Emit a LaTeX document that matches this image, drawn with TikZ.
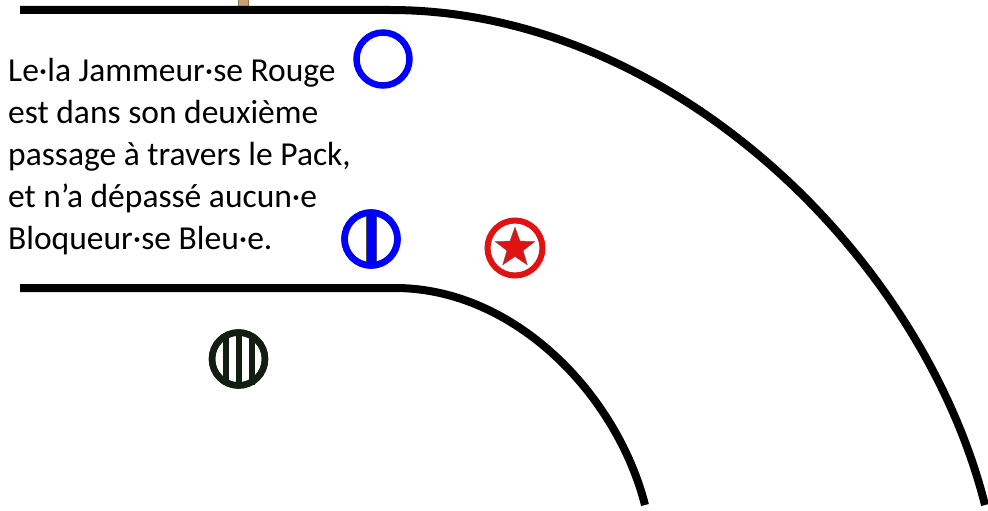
\documentclass[tikz,border=0pt]{standalone}
\usepackage{fontspec}
\setmainfont{Carlito}
\usetikzlibrary{shapes.geometric}
\definecolor{blockblue}{RGB}{0,0,255}
\definecolor{jamred}{RGB}{225,18,18}
\definecolor{darkgrn}{RGB}{18,30,18}
\definecolor{posttan}{RGB}{200,160,112}
\tikzset{
  trackline/.style={line width=8pt, black},
  ring/.style={circle, line width=6.5pt, minimum size=53pt, inner sep=0pt, fill=white},
  bluebar/.style={fill=blockblue, draw=black!70, line width=0.5pt},
  greenbar/.style={fill=darkgrn, draw=darkgrn, line width=0.3pt},
  infotext/.style={align=left, anchor=north west, inner sep=0pt, font=\fontsize{33.5}{42}\selectfont}
}
\begin{document}
\begin{tikzpicture}[x=1pt,y=-1pt]
\useasboundingbox (0,0) rectangle (988,511);
% tan post at top
\node[draw=posttan!70!black, fill=posttan, line width=0.5pt, minimum width=10pt, minimum height=12pt, inner sep=0pt, anchor=north] (post) at (243,-2) {};
% track
\coordinate (oA) at (20,10);
\coordinate (oB) at (390,10);
\coordinate (oE) at (985,505);
\coordinate (iA) at (20,288);
\coordinate (iB) at (395,288);
\coordinate (iE) at (645,505);
\draw[trackline] (oA) -- (oB) .. controls (670,10) and (922,255) .. (oE);
\draw[trackline] (iA) -- (iB) .. controls (515,288) and (617,395) .. (iE);
% skater centres
\coordinate (c1) at (383,59);
\coordinate (c2) at (371,239);
\coordinate (c3) at (515,248);
\coordinate (c4) at (238.5,359);
% blocker 1 (plain ring)
\node[ring, draw=blockblue] (blockerA) at (c1) {};
% blocker 2 (ring with bar)
\node[ring, draw=blockblue] (blockerB) at (c2) {};
\fill[bluebar] ([shift={(-5,-25)}]c2) rectangle ([shift={(5,25)}]c2);
\node[ring, draw=blockblue, fill=none] (blockerBring) at (c2) {};
% jammer
\node[ring, draw=jamred, line width=6pt, minimum size=55pt] (jammer) at (c3) {};
\node[star, star points=5, star point ratio=2.45, fill=jamred, draw=black!60, line width=0.4pt, minimum size=42pt, inner sep=0pt] (jamstar) at (c3) {};
% other blocker
\node[ring, draw=darkgrn] (pivot) at (c4) {};
\foreach \dx in {-13,0,13}
  \fill[greenbar] ([shift={(\dx-2.8,-25)}]c4) rectangle ([shift={(\dx+2.8,25)}]c4);
\node[ring, draw=darkgrn, fill=none] (pivotring) at (c4) {};
% text
\node[infotext] (info) at (8,58) {Le·la Jammeur·se Rouge\\est dans son deuxième\\passage à travers le Pack,\\et n’a dépassé aucun·e\\Bloqueur·se Bleu·e.};
\end{tikzpicture}
\end{document}
